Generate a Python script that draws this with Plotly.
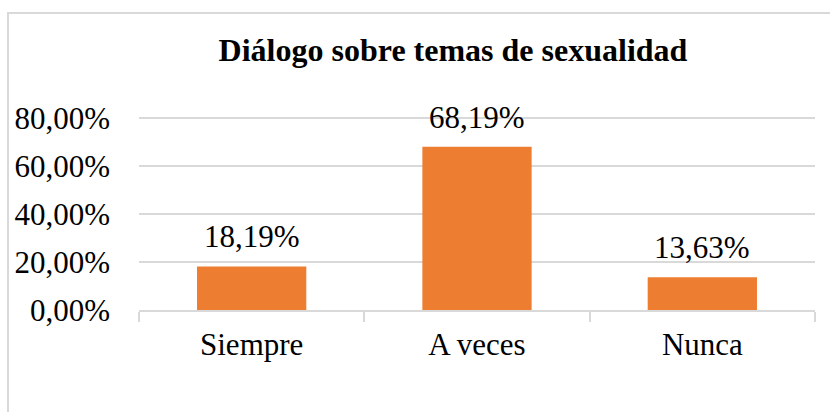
import plotly.graph_objects as go

categories = ["Siempre", "A veces", "Nunca"]
values = [0.1819, 0.6819, 0.1363]
labels = ["18,19%", "68,19%", "13,63%"]
y_ticks = [0, 0.2, 0.4, 0.6, 0.8]
y_tick_labels = ["0,00%", "20,00%", "40,00%", "60,00%", "80,00%"]
title_text = "Diálogo sobre temas de sexualidad"

FONT = "Times New Roman"
GRID = "#d9d9d9"

fig = go.Figure()
fig.add_trace(go.Bar(
    x=categories, y=values,
    marker=dict(color="#ED7D31", line=dict(width=0)),
    width=0.485,
    hoverinfo="skip",
))

for c, v, t in zip(categories, values, labels):
    fig.add_annotation(x=c, y=v, text=t, showarrow=False, xanchor="center",
                       yanchor="bottom", yshift=10,
                       font=dict(family=FONT, size=31, color="#000000"))

L, R, T, B = 139, 15, 116, 102
PW, PH = 830 - L - R, 412 - T - B
fig.add_shape(type="rect", xref="paper", yref="paper",
              x0=-(L - 8) / PW, x1=1 + 40 / PW, y0=-(B + 60) / PH, y1=(412 - B - 13) / PH,
              line=dict(color=GRID, width=2), fillcolor="rgba(0,0,0,0)", layer="below")

fig.update_layout(
    width=830, height=412,
    margin=dict(l=L, r=R, t=T, b=B),
    paper_bgcolor="white", plot_bgcolor="white",
    showlegend=False,
    title=dict(text="<b>" + title_text + "</b>", x=453/830, xanchor="center",
               xref="container", yref="container", y=1 - 50/412, yanchor="middle",
               font=dict(family=FONT, size=32, color="#000000")),
    font=dict(family=FONT, size=31, color="#000000"),
)
fig.update_xaxes(
    type="category", showgrid=False, showline=True, linecolor=GRID, linewidth=2,
    ticks="outside", tickson="boundaries", ticklen=10, tickcolor=GRID, tickwidth=2,
    tickfont=dict(family=FONT, size=31, color="#000000"), ticklabelstandoff=6,
    automargin=False,
)
fig.update_yaxes(
    range=[0, 0.81], tickvals=y_ticks, ticktext=y_tick_labels,
    showgrid=True, gridcolor=GRID, gridwidth=1.5, zeroline=False, showline=False,
    tickfont=dict(family=FONT, size=31, color="#000000"), ticklabelstandoff=28,
    automargin=False,
)

fig.write_html("out.html", config={"displayModeBar": False},
               post_script="document.body.style.margin='0';")
